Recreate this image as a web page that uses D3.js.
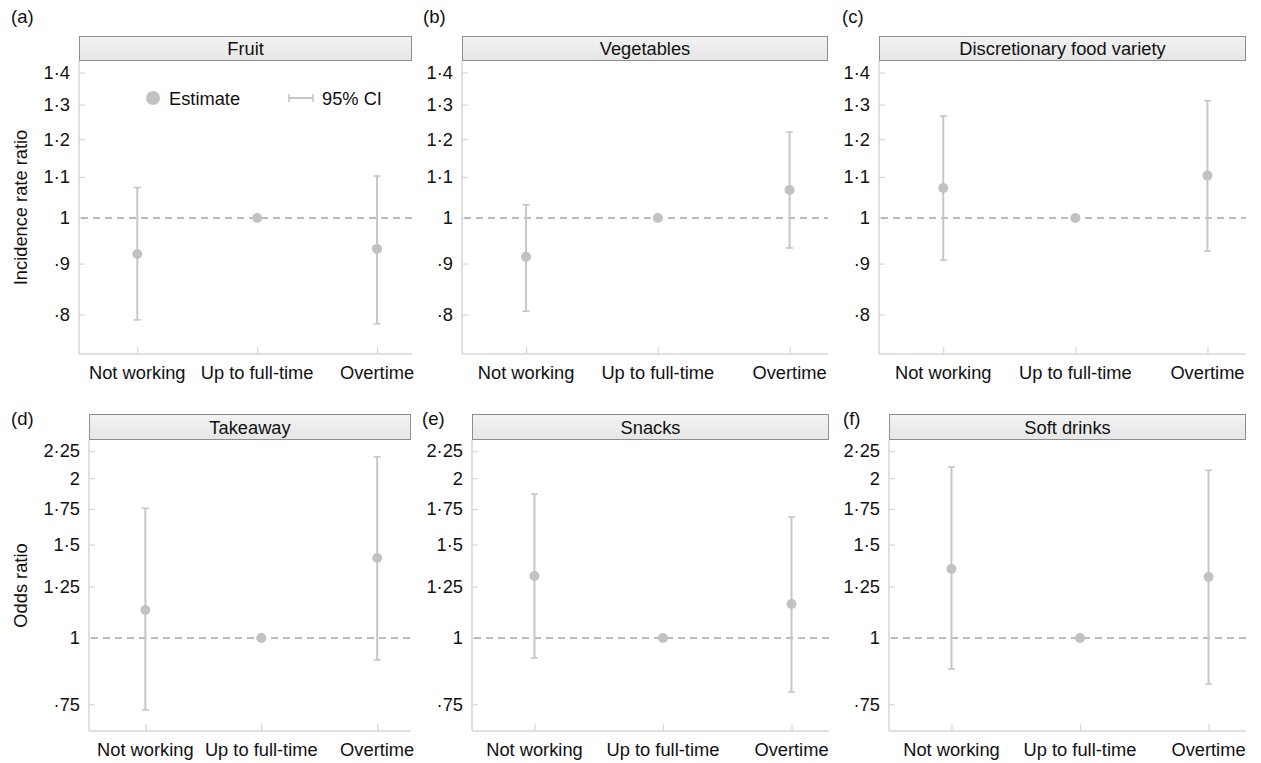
<!DOCTYPE html>
<html>
<head>
<meta charset="utf-8">
<script src="https://cdn.jsdelivr.net/npm/d3@7/dist/d3.min.js"></script>
<style>
  html, body { margin: 0; padding: 0; background: #fff; }
  svg { display: block; font-family: "Liberation Sans", Arial, Helvetica, sans-serif; }
</style>
</head>
<body>
<svg id="chart" width="1261" height="763"></svg>
<script>
// ---------------- DATA ----------------
const categories = ["Not working", "Up to full-time", "Overtime"];

const panelTitles = ["Fruit", "Vegetables", "Discretionary food variety", "Takeaway", "Snacks", "Soft drinks"];
const panelLetters = ["(a)", "(b)", "(c)", "(d)", "(e)", "(f)"];

// Estimates, lower and upper 95% CI for each outcome (categories order)
const fruitEst = [0.920, 1, 0.931];
const fruitLo  = [0.790, 1, 0.783];
const fruitHi  = [1.073, 1, 1.102];

const vegEst = [0.914, 1, 1.067];
const vegLo  = [0.806, 1, 0.933];
const vegHi  = [1.031, 1, 1.220];

const discEst = [1.072, 1, 1.103];
const discLo  = [0.907, 1, 0.926];
const discHi  = [1.266, 1, 1.312];

const takeawayEst = [1.129, 1, 1.415];
const takeawayLo  = [0.732, 1, 0.909];
const takeawayHi  = [1.755, 1, 2.196];

const snacksEst = [1.309, 1, 1.159];
const snacksLo  = [0.917, 1, 0.791];
const snacksHi  = [1.868, 1, 1.690];

const softEst = [1.349, 1, 1.303];
const softLo  = [0.874, 1, 0.819];
const softHi  = [2.100, 1, 2.070];

// Tick values and labels
const irrTicks = [0.8, 0.9, 1, 1.1, 1.2, 1.3, 1.4];
const irrTickLabels = ["·8", "·9", "1", "1·1", "1·2", "1·3", "1·4"];
const orTicks = [0.75, 1, 1.25, 1.5, 1.75, 2, 2.25];
const orTickLabels = ["·75", "1", "1·25", "1·5", "1·75", "2", "2·25"];

const irrDomain = [0.730, 1.438];
const orDomain = [0.668, 2.361];

const yTitles = ["Incidence rate ratio", "Odds ratio"];
const legendLabels = ["Estimate", "95% CI"];

const seriesEst = [fruitEst, vegEst, discEst, takeawayEst, snacksEst, softEst];
const seriesLo  = [fruitLo, vegLo, discLo, takeawayLo, snacksLo, softLo];
const seriesHi  = [fruitHi, vegHi, discHi, takeawayHi, snacksHi, softHi];

// ---------------- LAYOUT ----------------
const rows = [
  { stripTop: 36, stripBot: 61, plotBot: 354, letterY: 23, domain: irrDomain, ticks: irrTicks, labels: irrTickLabels, title: yTitles[0], titleCY: 207.5 },
  { stripTop: 414, stripBot: 440, plotBot: 731, letterY: 425, domain: orDomain, ticks: orTicks, labels: orTickLabels, title: yTitles[1], titleCY: 585.5 }
];
const cols = [
  [ {l: 79, r: 412, letterX: 11}, {l: 462, r: 828, letterX: 423}, {l: 879, r: 1246, letterX: 842} ],
  [ {l: 89, r: 411, letterX: 11}, {l: 472, r: 829, letterX: 422}, {l: 889, r: 1246, letterX: 843} ]
];

const svg = d3.select("#chart");
const FONT = 18.3;
const axisColor = "#d6d6d6";
const barColor = "#c6c6c6";
const pointColor = "#c2c2c2";

const defs = svg.append("defs");
const grad = defs.append("linearGradient").attr("id", "stripGrad")
  .attr("x1", 0).attr("y1", 0).attr("x2", 0).attr("y2", 1);
grad.append("stop").attr("offset", "0%").attr("stop-color", "#f3f3f3");
grad.append("stop").attr("offset", "100%").attr("stop-color", "#e6e6e6");

for (let ri = 0; ri < 2; ri++) {
  const row = rows[ri];
  for (let ci = 0; ci < 3; ci++) {
    const idx = ri * 3 + ci;
    const c = cols[ri][ci];
    const w = c.r - c.l;
    const g = svg.append("g");

    const y = d3.scaleLog().domain(row.domain).range([row.plotBot, row.stripBot]);
    const x = d3.scalePoint().domain(categories)
      .range([c.l + 0.175 * w, c.l + 0.895 * w]);

    // strip
    g.append("rect")
      .attr("x", c.l + 0.5).attr("y", row.stripTop + 0.5)
      .attr("width", w - 1).attr("height", row.stripBot - row.stripTop - 1)
      .attr("fill", "url(#stripGrad)").attr("stroke", "#8e8e8e").attr("stroke-width", 1);
    g.append("text")
      .attr("x", (c.l + c.r) / 2).attr("y", (row.stripTop + row.stripBot) / 2 + 6.5)
      .attr("text-anchor", "middle").attr("font-size", FONT).attr("fill", "#111")
      .text(panelTitles[idx]);

    // panel letter
    g.append("text")
      .attr("x", c.letterX).attr("y", row.letterY)
      .attr("font-size", 18.5).attr("fill", "#111")
      .text(panelLetters[idx]);

    // y axis
    const yAxis = d3.axisRight(y)
      .tickValues(row.ticks)
      .tickFormat((d, i) => row.labels[i])
      .tickSize(6);
    const ya = g.append("g").attr("transform", `translate(${c.l},0)`).call(yAxis);
    ya.select(".domain").remove();
    ya.selectAll(".tick line").attr("stroke", axisColor).attr("stroke-width", 1.2);
    ya.selectAll(".tick text")
      .attr("x", -9).attr("text-anchor", "end")
      .attr("font-size", FONT).attr("fill", "#111")
      .attr("font-family", "'Liberation Sans', Arial, sans-serif");

    // x axis
    const xAxis = d3.axisTop(x).tickSize(7).tickFormat("");
    const xa = g.append("g").attr("transform", `translate(0,${row.plotBot})`).call(xAxis);
    xa.select(".domain").remove();
    xa.selectAll(".tick line").attr("stroke", axisColor).attr("stroke-width", 1.2);
    g.selectAll(".xlab").data(categories).enter().append("text")
      .attr("x", d => x(d)).attr("y", row.plotBot + 25)
      .attr("text-anchor", "middle").attr("font-size", FONT).attr("fill", "#111")
      .text(d => d);

    // axis lines
    g.append("line")
      .attr("x1", c.l).attr("x2", c.l).attr("y1", row.stripBot).attr("y2", row.plotBot)
      .attr("stroke", axisColor).attr("stroke-width", 1.5);
    g.append("line")
      .attr("x1", c.l).attr("x2", c.r).attr("y1", row.plotBot).attr("y2", row.plotBot)
      .attr("stroke", axisColor).attr("stroke-width", 1.5);

    // reference line at 1
    g.append("line")
      .attr("x1", c.l + 2).attr("x2", c.r).attr("y1", y(1)).attr("y2", y(1))
      .attr("stroke", "#a8a8a8").attr("stroke-width", 1.5)
      .attr("stroke-dasharray", "7,5");

    // data
    const data = categories.map((cat, i) => ({
      cat, est: seriesEst[idx][i], lo: seriesLo[idx][i], hi: seriesHi[idx][i]
    }));
    const withCI = data.filter(d => d.lo !== d.hi);

    g.selectAll(".bar").data(withCI).enter().append("line")
      .attr("x1", d => x(d.cat)).attr("x2", d => x(d.cat))
      .attr("y1", d => y(d.lo)).attr("y2", d => y(d.hi))
      .attr("stroke", barColor).attr("stroke-width", 2);
    ["lo", "hi"].forEach(k => {
      g.selectAll(".cap" + k).data(withCI).enter().append("line")
        .attr("x1", d => x(d.cat) - 3.5).attr("x2", d => x(d.cat) + 3.5)
        .attr("y1", d => y(d[k])).attr("y2", d => y(d[k]))
        .attr("stroke", barColor).attr("stroke-width", 1.6);
    });
    g.selectAll(".pt").data(data).enter().append("circle")
      .attr("cx", d => x(d.cat)).attr("cy", d => y(d.est))
      .attr("r", 5).attr("fill", pointColor);

    // y title (first column)
    if (ci === 0) {
      svg.append("text")
        .attr("transform", `translate(27,${row.titleCY}) rotate(-90)`)
        .attr("text-anchor", "middle").attr("font-size", FONT).attr("fill", "#111")
        .text(row.title);
    }

    // legend (panel a)
    if (idx === 0) {
      const lg = g.append("g");
      lg.append("circle").attr("cx", 153).attr("cy", 98).attr("r", 7).attr("fill", pointColor);
      lg.append("text").attr("x", 169).attr("y", 104.5).attr("font-size", FONT).attr("fill", "#111").text(legendLabels[0]);
      lg.append("line").attr("x1", 289).attr("x2", 313).attr("y1", 98).attr("y2", 98)
        .attr("stroke", barColor).attr("stroke-width", 2);
      [289, 313].forEach(xx => lg.append("line").attr("x1", xx).attr("x2", xx)
        .attr("y1", 94).attr("y2", 102).attr("stroke", barColor).attr("stroke-width", 1.6));
      lg.append("text").attr("x", 322).attr("y", 104.5).attr("font-size", FONT).attr("fill", "#111").text(legendLabels[1]);
    }
  }
}
</script>
</body>
</html>
